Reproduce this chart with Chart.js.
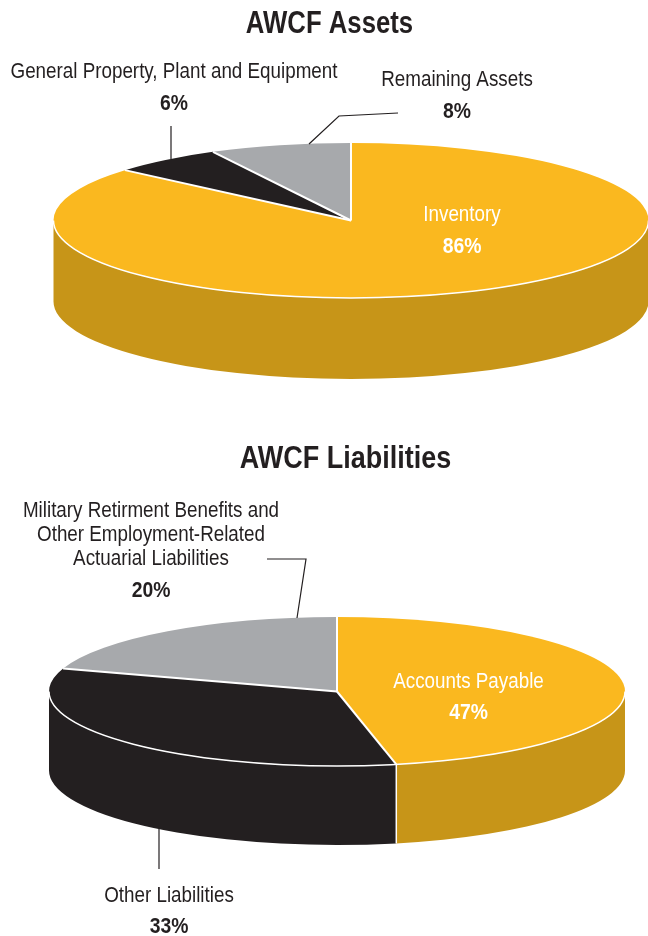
<!DOCTYPE html>
<html>
<head>
<meta charset="utf-8">
<script src="https://cdn.jsdelivr.net/npm/chart.js@4"></script>
<style>
html,body{margin:0;padding:0;background:#fff;width:648px;height:936px;overflow:hidden}
canvas{position:absolute;left:0;top:0}
</style>
</head>
<body>
<canvas id="a" width="648" height="936"></canvas>
<canvas id="b" width="648" height="936"></canvas>
<script>
const assetCategories = ["Inventory", "General Property, Plant and Equipment", "Remaining Assets"];
const assetValues = [86.26, 6.06, 7.68];
const assetColors = ["#FAB81F", "#231F20", "#A7A9AC"];
const assetSideColors = ["#C79518", "#231F20", "#A7A9AC"];

const liabilityCategories = ["Accounts Payable", "Other Liabilities", "Military Retirement Benefits and Other Employment-Related Actuarial Liabilities"];
const liabilityValues = [46.7, 33.3, 20];
const liabilityColors = ["#FAB81F", "#231F20", "#A7A9AC"];
const liabilitySideColors = ["#C79518", "#231F20", "#A7A9AC"];

const INK = "#231F20";
const FAMILY = '"Liberation Sans", sans-serif';
const NAME_FONT = '21.5px ' + FAMILY, NAME_SQUEEZE = 0.875;
const PCT_FONT = 'bold 21.5px ' + FAMILY, PCT_SQUEEZE = 0.9;
const TITLE_FONT = 'bold 31px ' + FAMILY;

function squeezedText(ctx, text, x, y, font, squeeze) {
  ctx.save();
  ctx.font = font;
  ctx.translate(x, y);
  ctx.scale(squeeze, 1);
  ctx.fillText(text, 0, 0);
  ctx.restore();
}

function pie3d(id, cfg) {
  const plugin = {
    id: "pie3d",
    beforeDatasetsDraw(chart) {
      const ctx = chart.ctx, arcs = chart.getDatasetMeta(0).data;
      const cx = arcs[0].x, cy = arcs[0].y, rx = arcs[0].outerRadius, ry = cfg.ry, d = cfg.depth;
      arcs.forEach((arc, i) => {
        [[0, Math.PI], [2 * Math.PI, 3 * Math.PI]].forEach(([lo, hi]) => {
          const a = Math.max(arc.startAngle, lo), b = Math.min(arc.endAngle, hi);
          if (b <= a) return;
          ctx.beginPath();
          ctx.ellipse(cx, cy, rx, ry, 0, a, b, false);
          ctx.ellipse(cx, cy + d, rx, ry, 0, b, a, true);
          ctx.closePath();
          ctx.fillStyle = cfg.sideColors[i];
          ctx.fill();
        });
      });
      ctx.strokeStyle = "#fff";
      ctx.lineWidth = 1.5;
      arcs.forEach(arc => {
        const s = Math.sin(arc.endAngle), c = Math.cos(arc.endAngle);
        if (s > 0) {
          ctx.beginPath();
          ctx.moveTo(cx + rx * c, cy + ry * s);
          ctx.lineTo(cx + rx * c, cy + ry * s + d);
          ctx.stroke();
        }
      });
      ctx.save();
      ctx.translate(cx, cy);
      ctx.scale(1, ry / rx);
      ctx.translate(-cx, -cy);
    },
    afterDatasetsDraw(chart) {
      const ctx = chart.ctx, arcs = chart.getDatasetMeta(0).data;
      ctx.restore();
      const cx = arcs[0].x, cy = arcs[0].y, rx = arcs[0].outerRadius, ry = cfg.ry;
      ctx.strokeStyle = "#fff";
      ctx.lineWidth = 1.5;
      ctx.beginPath();
      ctx.ellipse(cx, cy, rx, ry, 0, 0, Math.PI, false);
      ctx.stroke();
      ctx.lineWidth = 2;
      arcs.forEach(arc => {
        ctx.beginPath();
        ctx.moveTo(cx, cy);
        ctx.lineTo(cx + rx * Math.cos(arc.startAngle), cy + ry * Math.sin(arc.startAngle));
        ctx.stroke();
      });
      ctx.strokeStyle = INK;
      ctx.lineWidth = 1.2;
      cfg.leaders.forEach(pts => {
        ctx.beginPath();
        pts.forEach((p, i) => i ? ctx.lineTo(p[0], p[1]) : ctx.moveTo(p[0], p[1]));
        ctx.stroke();
      });
      ctx.textAlign = "center";
      ctx.textBaseline = "alphabetic";
      ctx.fillStyle = INK;
      squeezedText(ctx, cfg.title, cfg.titleAt[0], cfg.titleAt[1], TITLE_FONT, cfg.titleSqueeze);
      cfg.labels.forEach((l, i) => {
        ctx.fillStyle = l.color;
        l.lines.forEach((t, k) => squeezedText(ctx, t, l.x, l.ys[k], NAME_FONT, NAME_SQUEEZE));
        squeezedText(ctx, Math.round(cfg.values[i]) + "%", l.x, l.pctY, PCT_FONT, PCT_SQUEEZE);
      });
    }
  };
  return new Chart(document.getElementById(id), {
    type: "pie",
    data: {
      labels: cfg.categories,
      datasets: [{ data: cfg.values, backgroundColor: cfg.colors, borderWidth: 0, radius: cfg.rx, clip: false }]
    },
    options: {
      responsive: false,
      animation: false,
      events: [],
      layout: { padding: cfg.padding },
      plugins: { legend: { display: false }, tooltip: { enabled: false } }
    },
    plugins: [plugin]
  });
}

pie3d("a", {
  categories: assetCategories, values: assetValues, colors: assetColors, sideColors: assetSideColors,
  rx: 297.5, ry: 77.5, depth: 81, padding: { left: 54, top: 0, right: 0, bottom: 495 },
  title: "AWCF Assets", titleAt: [329.5, 33], titleSqueeze: 0.83,
  leaders: [[[171, 126], [171, 159]], [[398, 113], [339, 116], [309, 144]]],
  labels: [
    { lines: [assetCategories[0]], x: 462, ys: [221], pctY: 253, color: "#fff" },
    { lines: [assetCategories[1]], x: 174, ys: [78], pctY: 110, color: INK },
    { lines: [assetCategories[2]], x: 457, ys: [86], pctY: 118, color: INK }
  ]
});

pie3d("b", {
  categories: liabilityCategories, values: liabilityValues, colors: liabilityColors, sideColors: liabilitySideColors,
  rx: 288, ry: 74.5, depth: 79, padding: { left: 26, top: 447, right: 0, bottom: 0 },
  title: "AWCF Liabilities", titleAt: [345.5, 468], titleSqueeze: 0.87,
  leaders: [[[267, 559], [306, 559], [297, 618]], [[159, 829], [159, 869]]],
  labels: [
    { lines: [liabilityCategories[0]], x: 468.5, ys: [688], pctY: 719, color: "#fff" },
    { lines: [liabilityCategories[1]], x: 169, ys: [902], pctY: 933, color: INK },
    { lines: ["Military Retirment Benefits and", "Other Employment-Related", "Actuarial Liabilities"], x: 151, ys: [517, 541, 565], pctY: 597, color: INK }
  ]
});
</script>
</body>
</html>
